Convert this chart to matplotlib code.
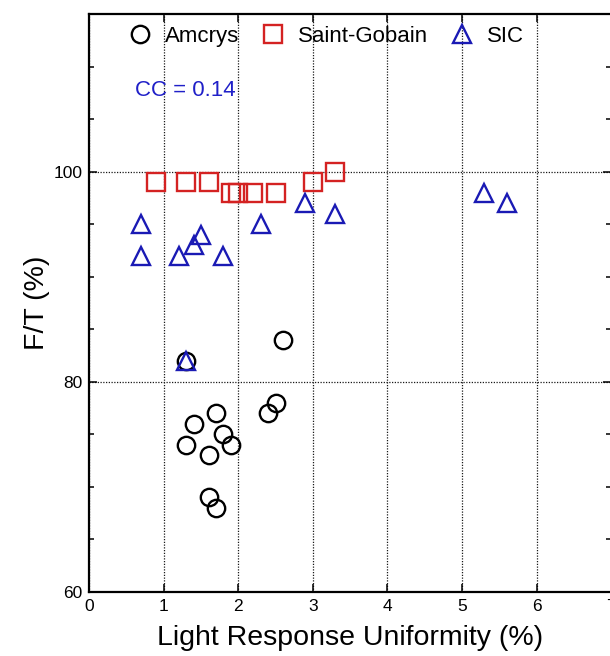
import matplotlib
matplotlib.use("Agg")
import matplotlib.pyplot as plt
from matplotlib.ticker import MultipleLocator

plt.rcParams["font.family"] = ["Liberation Sans", "DejaVu Sans"]

# Light response uniformity (%) vs F/T (%) per supplier
amcrys_x = [1.3, 2.6, 1.7, 1.4, 2.5, 2.4, 1.8, 1.3, 1.9, 1.6, 1.6, 1.7]
amcrys_y = [82, 84, 77, 76, 78, 77, 75, 74, 74, 73, 69, 68]

saint_gobain_x = [0.9, 1.3, 1.6, 1.9, 2.0, 2.2, 2.5, 3.0, 3.3]
saint_gobain_y = [99, 99, 99, 98, 98, 98, 98, 99, 100]

sic_x = [0.7, 0.7, 1.2, 1.4, 1.5, 1.8, 2.3, 2.9, 3.3, 5.3, 5.6, 1.3]
sic_y = [95, 92, 92, 93, 94, 92, 95, 97, 96, 98, 97, 82]

series_labels = ["Amcrys", "Saint-Gobain", "SIC"]
cc_text = "CC = 0.14"

x_ticks = [0, 1, 2, 3, 4, 5, 6, 7]
y_ticks = [60, 80, 100]

RED = "#d42222"
BLUE = "#1a1ab4"

fig = plt.figure(figsize=(6.10, 6.56), dpi=100)
ax = fig.add_axes([0.1464, 0.0980, 0.8553, 0.8806])

mk = dict(linestyle="none", markersize=12.5, markeredgewidth=1.7,
          markerfacecolor="none")
ax.plot(amcrys_x, amcrys_y, marker="o", markeredgecolor="black",
        label=series_labels[0], **mk)
ax.plot(saint_gobain_x, saint_gobain_y, marker="s", markeredgecolor=RED,
        label=series_labels[1], **mk)
ax.plot(sic_x, sic_y, marker="^", markeredgecolor=BLUE,
        label=series_labels[2], **mk)

ax.set_xlim(0, 7)
ax.set_ylim(60, 115)
ax.set_xticks(x_ticks)
ax.set_yticks(y_ticks)
ax.yaxis.set_minor_locator(MultipleLocator(5))

ax.grid(True, which="major", color="#1a1a1a", linestyle=(0, (1, 1.2)),
        linewidth=0.9)

for s in ax.spines.values():
    s.set_linewidth(1.6)

ax.tick_params(which="both", direction="in", top=True, right=True,
               labelsize=12.5, width=1.1)
ax.tick_params(which="major", length=6)
ax.tick_params(which="minor", length=3.8)
ax.tick_params(axis="x", pad=5)
ax.tick_params(axis="y", pad=5)

ax.set_xlabel("Light Response Uniformity (%)", fontsize=20.5)
ax.set_ylabel("F/T (%)", fontsize=20.5)
ax.xaxis.set_label_coords(0.5, -0.057)
ax.yaxis.set_label_coords(-0.075, 0.5)

ax.text(0.0877, 0.867, cc_text, transform=ax.transAxes, color="#2020c8",
        fontsize=16, va="center", ha="left")

ax.legend(loc="upper left", bbox_to_anchor=(0.076, 0.979), ncol=3,
          frameon=False, fontsize=16, handlelength=1.0, handletextpad=0.6,
          columnspacing=1.05, borderpad=0, borderaxespad=0, markerscale=1.0)

fig.savefig("out.png", dpi=100)
